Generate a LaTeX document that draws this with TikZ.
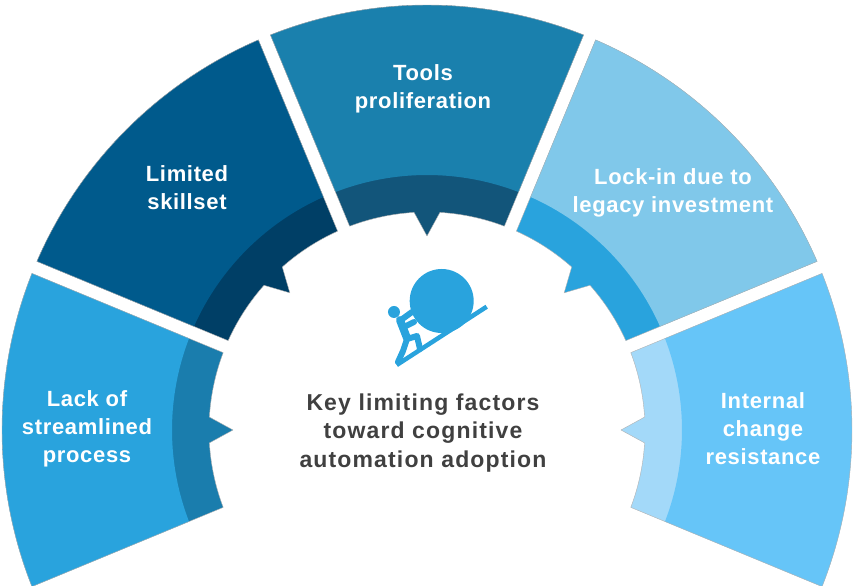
\documentclass[tikz,border=0pt]{standalone}
\usepackage{fontspec}
\setmainfont{Liberation Sans}
\newfontfamily\segfont[LetterSpace=3]{Liberation Sans}
\newfontfamily\keyfont[LetterSpace=5]{Liberation Sans}
\definecolor{lackmain}{HTML}{29A3DD}
\definecolor{lackband}{HTML}{1A7DAD}
\definecolor{skillmain}{HTML}{005A8C}
\definecolor{skillband}{HTML}{003F66}
\definecolor{toolmain}{HTML}{1A80AD}
\definecolor{toolband}{HTML}{12557A}
\definecolor{lockmain}{HTML}{80C8EA}
\definecolor{lockband}{HTML}{29A3DD}
\definecolor{resmain}{HTML}{66C5F8}
\definecolor{resband}{HTML}{A3D9F9}
\definecolor{keygray}{HTML}{404040}
\definecolor{icon}{HTML}{29A3DD}
\begin{document}
\begin{tikzpicture}[x=1pt,y=1pt,
	seglabel/.style={text=white,font=\segfont\bfseries\fontsize{22}{28}\selectfont,align=center},
	keylabel/.style={text=keygray,font=\keyfont\bfseries\fontsize{23}{28.5}\selectfont,align=center},
	limb/.style={draw=icon,line width=6pt,line cap=round,line join=round}]
	\useasboundingbox(-427,-156)rectangle(428,430);
	\def\gap{6.5}
	\foreach \a/\main/\band in {180/lackmain/lackband,135/skillmain/skillband,90/toolmain/toolband,45/lockmain/lockband,0/resmain/resband}{
		\pgfmathsetmacro\dout{asin(\gap/425)}
		\pgfmathsetmacro\din{asin(\gap/218)}
		\pgfmathsetmacro\dmid{asin(\gap/255)}
		\path[save path=\segpath](\a-22.5+\dout:425pt)
			arc[start angle=\a-22.5+\dout,end angle=\a+22.5-\dout,radius=425pt]
			--(\a+22.5-\din:218pt)
			arc[start angle=\a+22.5-\din,end angle=\a+3.4,radius=218pt]
			--(\a:194pt)--(\a-3.4:218pt)
			arc[start angle=\a-3.4,end angle=\a-22.5+\din,radius=218pt]--cycle;
		\fill[\band][use path=\segpath];
		\fill[\main](\a-22.5+\dout:425pt)
			arc[start angle=\a-22.5+\dout,end angle=\a+22.5-\dout,radius=425pt]
			--(\a+22.5-\dmid:255pt)
			arc[start angle=\a+22.5-\dmid,end angle=\a-22.5+\dmid,radius=255pt]--cycle;
		\draw[gray!60,line width=0.4pt][use path=\segpath];
	}
	\node[seglabel](lack)at(-340,1){Lack of\\streamlined\\process};
	\node[seglabel](skill)at(-240,242){Limited\\skillset};
	\node[seglabel](tools)at(-4,341){Tools\\proliferation};
	\node[seglabel](lock)at(246,237){Lock-in due to\\legacy investment};
	\node[seglabel](resist)at(336,1){Internal\\change\\resistance};
	\node[keylabel](key)at(-4,-3){Key limiting factors\\toward cognitive\\automation adoption};
	% icon
	\fill[icon](14.7,129)circle[radius=32pt];
	\draw[icon,line width=4.5pt](-30.3,65)--(59.7,123.3);
	\fill[icon](-33,118)circle[radius=6pt];
	\draw[limb,line width=8pt](-27,110)--(-20,92);
	\draw[limb](-20,91)--(-10,94)--(-7,81);
	\draw[limb](-20,91)--(-24,79)--(-29,68);
	\draw[limb](-26,110)--(-15,118);
	\draw[limb](-23,103)--(-13,108);
\end{tikzpicture}
\end{document}
